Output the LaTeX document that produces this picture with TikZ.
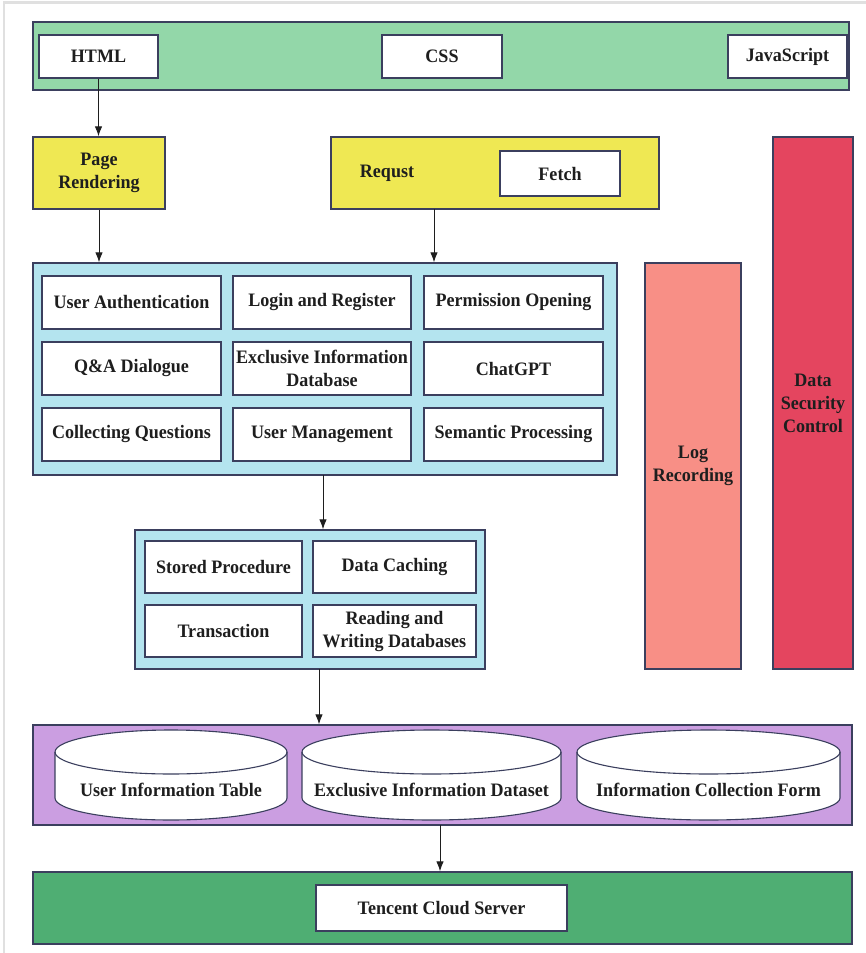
\documentclass[tikz,border=0pt]{standalone}
\usepackage{fontspec}
\setmainfont{Liberation Serif}[FakeStretch=0.95]
\usetikzlibrary{arrows.meta}

\definecolor{edge}{HTML}{3B3F5E}
\definecolor{ink}{HTML}{1E1E1E}
\definecolor{webgreen}{HTML}{93D7A9}
\definecolor{reqyellow}{HTML}{EFE853}
\definecolor{svcblue}{HTML}{B4E4EF}
\definecolor{logpink}{HTML}{F88F86}
\definecolor{secred}{HTML}{E4455F}
\definecolor{dbpurple}{HTML}{CB9EE1}
\definecolor{cloudgreen}{HTML}{4FAE73}

\begin{document}
\begin{tikzpicture}[x=1pt,y=-1pt,
  span/.style n args={4}{at={({(#1+#3)/2},{(#2+#4)/2})},
    minimum width={(#3-#1)*1pt}, minimum height={(#4-#2)*1pt}},
  panel/.style={draw=edge, line width=1.4pt, inner sep=0pt},
  cell/.style={draw=edge, line width=1.1pt, fill=white, inner sep=0pt,
    align=center, text=ink},
  lbl/.style={font=\fontsize{19}{23}\selectfont\bfseries, text=ink, align=center},
  arr/.style={draw=ink, line width=0.9pt, -{Latex[length=10pt,width=7.5pt]}},
  cyl/.style={draw=edge, line width=1.1pt, fill=white}
]
\useasboundingbox (0,0) rectangle (866,953);
\fill[white] (0,0) rectangle (866,953);
\draw[line width=2.5pt, black!12] (4,953) -- (4,2.5) -- (866,2.5);

% ---- front-end layer
\node[panel, fill=webgreen, span={33}{22}{849}{90}] (web) {};
\node[cell, lbl, span={39}{35}{158}{78}] (html) {HTML};
\node[cell, lbl, span={382}{35}{502}{78}] (css) {CSS};
\node[cell, lbl, span={728}{35}{847}{78}] (js) {JavaScript};

% ---- rendering and request
\node[panel, fill=reqyellow, lbl, span={33}{137}{165}{209}] (page) {Page\\Rendering};
\node[panel, fill=reqyellow, span={331}{137}{659}{209}] (req) {};
\node[lbl, at={(387,173)}] (reqtxt) {Requst};
\node[cell, lbl, span={500}{151}{620}{196}] (fetch) {Fetch};

% ---- side columns
\node[panel, fill=secred, lbl, span={773}{137}{853}{669}] (sec) {Data\\Security\\Control};
\node[panel, fill=logpink, lbl, span={645}{263}{741}{669}] (log) {Log\\Recording};

% ---- service layer
\node[panel, fill=svcblue, span={33}{263}{617}{475}] (svc) {};
\node[cell, lbl, span={42}{276}{221}{329}] (auth) {User Authentication};
\node[cell, lbl, span={233}{276}{411}{329}] (login) {Login and Register};
\node[cell, lbl, span={424}{276}{603}{329}] (perm) {Permission Opening};
\node[cell, lbl, span={42}{342}{221}{395}] (qa) {Q\&A Dialogue};
\node[cell, lbl, span={233}{342}{411}{395}] (exdb) {Exclusive Information\\Database};
\node[cell, lbl, span={424}{342}{603}{395}] (gpt) {ChatGPT};
\node[cell, lbl, span={42}{408}{221}{461}] (collect) {Collecting Questions};
\node[cell, lbl, span={233}{408}{411}{461}] (umgmt) {User Management};
\node[cell, lbl, span={424}{408}{603}{461}] (sem) {Semantic Processing};

% ---- data access layer
\node[panel, fill=svcblue, span={135}{530}{485}{669}] (dal) {};
\node[cell, lbl, span={145}{541}{302}{593}] (proc) {Stored Procedure};
\node[cell, lbl, span={313}{541}{476}{593}] (cache) {Data Caching};
\node[cell, lbl, span={145}{605}{302}{657}] (trans) {Transaction};
\node[cell, lbl, span={313}{605}{476}{657}] (rw) {Reading and\\Writing Databases};

% ---- storage layer (y axis points down, so arcs through +90 bulge downwards)
\node[panel, fill=dbpurple, span={33}{725}{852}{825}] (store) {};
\foreach \xa/\xb/\nm/\tx in {55/287/usertab/User Information Table,
    302/561/exset/Exclusive Information Dataset,
    577/840/colform/Information Collection Form}{
  \pgfmathsetmacro{\rx}{(\xb-\xa)/2}
  \pgfmathsetmacro{\cx}{(\xa+\xb)/2}
  \draw[cyl] (\xa,752) -- (\xa,798)
    arc[start angle=180, end angle=0, x radius=\rx, y radius=22]
    -- (\xb,752)
    arc[start angle=0, end angle=-180, x radius=\rx, y radius=22] -- cycle;
  \draw[draw=edge, line width=1.1pt] (\xa,752)
    arc[start angle=180, end angle=0, x radius=\rx, y radius=22];
  \node[lbl, at={(\cx,790)}] (\nm) {\tx};
}

% ---- server layer
\node[panel, fill=cloudgreen, span={33}{872}{852}{944}] (cloud) {};
\node[cell, lbl, span={316}{885}{567}{931}] (tencent) {Tencent Cloud Server};

% ---- connectors
\coordinate (reqout) at (434,209);
\coordinate (svcout) at (323,475);
\coordinate (dalout) at (319,669);
\coordinate (storeout) at (440,825);
\draw[arr] (html.south) -- (html.south |- page.north);
\draw[arr] (page.south) -- (page.south |- svc.north);
\draw[arr] (reqout) -- (reqout |- svc.north);
\draw[arr] (svcout) -- (svcout |- dal.north);
\draw[arr] (dalout) -- (dalout |- store.north);
\draw[arr] (storeout) -- (storeout |- cloud.north);
\end{tikzpicture}
\end{document}
